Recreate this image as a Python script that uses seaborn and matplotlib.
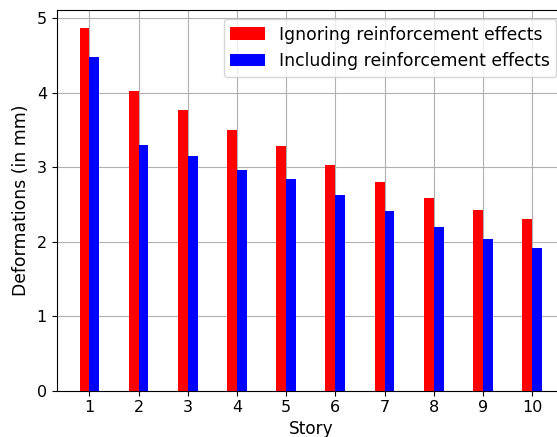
import matplotlib
matplotlib.use("Agg")
import matplotlib.pyplot as plt
import seaborn as sns
import pandas as pd

stories = [1, 2, 3, 4, 5, 6, 7, 8, 9, 10]
ignoring = [4.87, 4.02, 3.77, 3.50, 3.28, 3.03, 2.80, 2.59, 2.42, 2.30]
including = [4.48, 3.30, 3.15, 2.96, 2.84, 2.63, 2.41, 2.20, 2.04, 1.91]
series_names = ["Ignoring reinforcement effects", "Including reinforcement effects"]
colors = ["#ff0000", "#0000ff"]

df = pd.DataFrame({
    "Story": stories * 2,
    "Deformation": ignoring + including,
    "Series": [series_names[0]] * len(stories) + [series_names[1]] * len(stories),
})

fig = plt.figure(figsize=(5.57, 4.37), dpi=100)
ax = fig.add_axes([56.7 / 557, (437 - 390.7) / 437, (565 - 56.7) / 557, (390.7 - 10) / 437])

sns.barplot(data=df, x="Story", y="Deformation", hue="Series",
            palette=colors, width=0.4, dodge=True, saturation=1,
            ax=ax, zorder=3, edgecolor="none", linewidth=0)

ax.set_xlim(-0.665, 9.67)
ax.set_ylim(0, 5.11)
ax.set_axisbelow(True)
ax.grid(True, color="#b0b0b0", linewidth=0.8)
ax.xaxis.grid(True, color="#b0b0b0", linewidth=0.8)
ax.set_xlabel("Story", fontsize=12.2, labelpad=3)
ax.set_ylabel("Deformations (in mm)", fontsize=12.4, labelpad=5)
ax.tick_params(labelsize=11.5)
ax.legend(loc="upper right", fontsize=12.4)

fig.savefig("out.png", dpi=100)
